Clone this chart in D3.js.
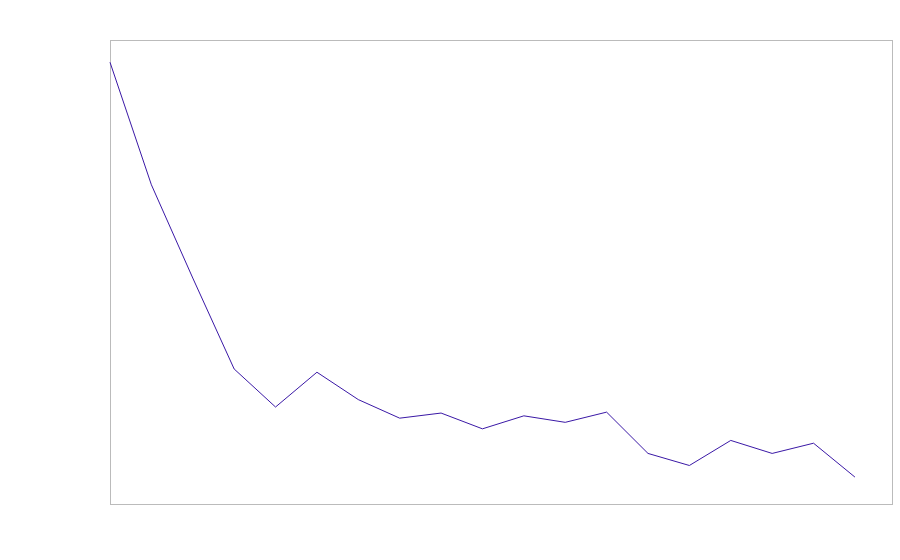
<!DOCTYPE html>
<html>
<head>
<meta charset="utf-8">
<script src="https://cdn.jsdelivr.net/npm/d3@7"></script>
<style>
 html, body { margin: 0; padding: 0; background: #fff; }
</style>
</head>
<body>
<div id="d3-container"></div>
<script>
/**
 * CONSTANTS AND GLOBALS
 * */
const width = 900,
 height = 560,
 margin = { top: 40, bottom: 56, left: 110, right: 7 };

// data (no axis labels shown, so units are arbitrary 0-100)
const steps = d3.range(19);
const values = [95.2, 68.8, 48.7, 29.1, 20.9, 28.4, 22.5, 18.5, 19.6, 16.2,
 19.0, 17.6, 19.8, 10.9, 8.3, 13.7, 10.9, 13.1, 5.8];
const xDomain = [0, 18.92];
const yDomain = [0, 100];

const svg = d3.select("#d3-container")
 .append("svg")
 .attr("width", width)
 .attr("height", height);

const x = d3.scaleLinear(xDomain, [margin.left, width - margin.right]);
const y = d3.scaleLinear(yDomain, [height - margin.bottom, margin.top]);

// plot frame
svg.append("rect")
 .attr("x", margin.left + 0.5)
 .attr("y", margin.top + 0.5)
 .attr("width", width - margin.left - margin.right - 1)
 .attr("height", height - margin.top - margin.bottom)
 .attr("fill", "none")
 .attr("stroke", "#bbb");

const line = d3.line()
 .x((d, i) => x(steps[i]))
 .y(d => y(d));

svg.append("path")
 .datum(values)
 .attr("fill", "none")
 .attr("stroke", "#3a18a6")
 .attr("stroke-width", 1)
 .attr("d", line);
</script>
</body>
</html>
